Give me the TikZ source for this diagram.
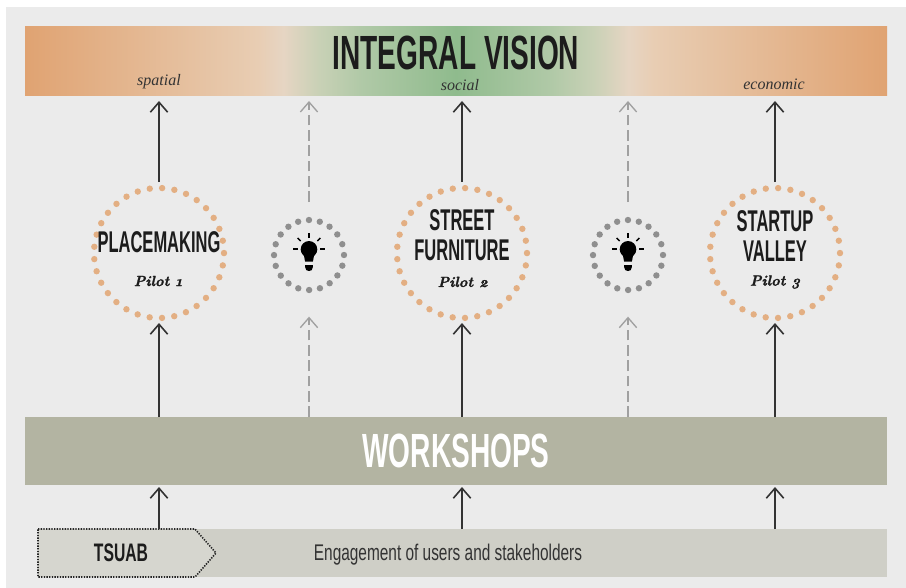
\documentclass[tikz,border=0pt]{standalone}
\usepackage{fontspec}
\usetikzlibrary{arrows.meta}
\setmainfont{Liberation Serif}
\newfontfamily\condbold[FakeStretch=0.585]{Liberation Sans Bold}
\newfontfamily\condhead[FakeStretch=0.55]{Liberation Sans Bold}
\newfontfamily\condtag[FakeStretch=0.62]{Liberation Sans Bold}
\newfontfamily\condreg[FakeStretch=0.68]{Liberation Sans}
\newfontfamily\pilotfont[Numbers=OldStyle,Extension=.otf,FakeBold=1.5]{lmroman10-bolditalic}
\definecolor{bggray}{HTML}{EBEBEB}
\definecolor{orangedot}{HTML}{E3AF83}
\definecolor{graydot}{HTML}{8F8F8F}
\definecolor{wsfill}{HTML}{B3B4A2}
\definecolor{engfill}{HTML}{CFCFC7}
\definecolor{inkdark}{HTML}{333333}
\definecolor{dashgray}{HTML}{A0A0A0}
\definecolor{titleink}{HTML}{1C1C1C}
\definecolor{vbA}{HTML}{E0A372}
\definecolor{vbB}{HTML}{E8CDB3}
\definecolor{vbC}{HTML}{E6D5C3}
\definecolor{vbD}{HTML}{C9D1B6}
\definecolor{vbE}{HTML}{B0C9A7}
\definecolor{vbF}{HTML}{8FBB8D}
\pgfdeclarehorizontalshading{visionbar}{100bp}{
 color(0bp)=(vbA);
 color(25bp)=(vbA);
 color(38.5bp)=(vbB);
 color(40bp)=(vbC);
 color(42bp)=(vbD);
 color(44.5bp)=(vbE);
 color(50bp)=(vbF);
 color(55.5bp)=(vbE);
 color(58bp)=(vbD);
 color(60bp)=(vbC);
 color(61.5bp)=(vbB);
 color(75bp)=(vbA);
 color(100bp)=(vbA)}
\tikzset{
 x=0.75pt,y=-0.75pt,
 barbox/.style={minimum height=51pt,inner sep=0pt,outer sep=0pt,text width=646.5pt,align=center},
 bigdots/.style={circle,minimum size=97.5pt,inner sep=0pt,outer sep=0pt,draw=orangedot,line width=4.8pt,line cap=round,dash pattern=on 0pt off 9.28pt},
 smalldots/.style={circle,minimum size=52.5pt,inner sep=0pt,outer sep=0pt,draw=graydot,line width=4.8pt,line cap=round,dash pattern=on 0pt off 8.25pt},
 solidarrow/.style={draw=inkdark,line width=1.2pt,-{Straight Barb[length=7.5pt,width=13pt,line width=1.2pt]}},
 dasharrow/.style={draw=dashgray,line width=1pt,dash pattern=on 8pt off 3.5pt,-{Straight Barb[length=7.5pt,width=13pt,line width=1pt]}},
 headtext/.style={font=\condhead\fontsize{22.5}{24}\selectfont,text=titleink,inner sep=0pt},
 axislabel/.style={font=\itshape\fontsize{12}{14}\selectfont,text=inkdark,inner sep=0pt},
 pilotlabel/.style={font=\pilotfont\fontsize{11}{12}\selectfont,text=titleink,inner sep=0pt},
}
\begin{document}
\begin{tikzpicture}
\useasboundingbox (0,0) rectangle (906,588);
\fill[white] (0,0) rectangle (906,588);
\fill[bggray] (5.5,7) rectangle (906,588);
% bars
\node[barbox,shade,shading=visionbar,minimum height=51.75pt] (vision) at (456,61.5) {};
\node[barbox,fill=wsfill] (workshops) at (456,451) {};
\fill[engfill] (38,529) rectangle (887,577);
\coordinate (engtop) at (456,529);
% dotted circles
\node[bigdots] (p1) at (159,253) {};
\node[bigdots] (p2) at (462,253) {};
\node[bigdots] (p3) at (775,253) {};
\node[smalldots] (s1) at (309,255) {};
\node[smalldots] (s2) at (628,255) {};
% tsuab pentagon
\draw[black!85,line width=1.2pt,dash pattern=on 1pt off 1pt,fill=engfill!85!white]
  (38,529) coordinate (tsuabtop) -- (195,529) -- (216,553) -- (195,577) -- (38,577) -- cycle;
\node[inner sep=0pt,font=\condtag\fontsize{19}{21}\selectfont,text=titleink] (tsuab) at (121,553) {TSUAB};
\node[inner sep=0pt,font=\condreg\fontsize{17}{19}\selectfont,text=inkdark] (eng) at (448,555) {Engagement of users and stakeholders};
% titles
\node[inner sep=0pt,font=\condbold\fontsize{36}{38}\selectfont,text=titleink] (visiontext) at (456,53) {INTEGRAL VISION};
\node[inner sep=0pt,font=\condbold\fontsize{36}{38}\selectfont,text=white] (wstext) at (456,451) {WORKSHOPS};
\node[axislabel] (a1) at (159,82) {spatial};
\node[axislabel] (a2) at (460,85) {social};
\node[axislabel] (a3) at (774,84) {economic};
% circle text
\node[headtext] (t1) at (159,242) {PLACEMAKING};
\node[pilotlabel] (l1) at (158,281) {Pilot 1};
\node[headtext] (t2a) at (462,220) {STREET};
\node[headtext] (t2b) at (462,250) {FURNITURE};
\node[pilotlabel] (l2) at (463,282) {Pilot 2};
\node[headtext] (t3a) at (775,221) {STARTUP};
\node[headtext] (t3b) at (775,251) {VALLEY};
\node[pilotlabel] (l3) at (775,282) {Pilot 3};
% bulbs
\foreach \n in {s1,s2}{
  \begin{scope}[shift={(\n.center)}]
    \fill[black] (0,-5.7) circle[radius=8.3];
    \fill[black] (-5.5,-2) -- (5.5,-2) -- (3.9,6.7) -- (-3.9,6.7) -- cycle;
    \fill[black] (-3.9,10) -- (3.9,10) -- (3.9,12) .. controls (3.9,15) and (2,16) .. (0,16) .. controls (-2,16) and (-3.9,15) .. (-3.9,12) -- cycle;
    \draw[black,line width=1.1pt] (0,-17) -- (0,-22);
    \draw[black,line width=1.1pt] (-8.3,-14) -- (-11.3,-17);
    \draw[black,line width=1.1pt] (8.3,-14) -- (11.3,-17);
    \draw[black,line width=1.1pt] (-11,-6) -- (-16,-6);
    \draw[black,line width=1.1pt] (11,-6) -- (16,-6);
  \end{scope}
}
% upper arrows
\draw[solidarrow,shorten >=3.75pt,shorten <=4.5pt] (p1.north) -- (p1.north |- vision.south);
\draw[solidarrow,shorten >=3.75pt,shorten <=4.5pt] (p2.north) -- (p2.north |- vision.south);
\draw[solidarrow,shorten >=3.75pt,shorten <=4.5pt] (p3.north) -- (p3.north |- vision.south);
\draw[dasharrow,shorten >=3.75pt,shorten <=13.5pt] (s1.north) -- (s1.north |- vision.south);
\draw[dasharrow,shorten >=3.75pt,shorten <=13.5pt] (s2.north) -- (s2.north |- vision.south);
% lower arrows
\draw[solidarrow,shorten >=3.75pt] (p1.south |- workshops.north) -- (p1.south);
\draw[solidarrow,shorten >=3.75pt] (p2.south |- workshops.north) -- (p2.south);
\draw[solidarrow,shorten >=3.75pt] (p3.south |- workshops.north) -- (p3.south);
\draw[dasharrow,shorten >=20pt] (s1.south |- workshops.north) -- (s1.south);
\draw[dasharrow,shorten >=20pt] (s2.south |- workshops.north) -- (s2.south);
% bottom arrows
\draw[solidarrow,shorten >=1.5pt] (p1.south |- tsuabtop) -- (p1.south |- workshops.south);
\draw[solidarrow,shorten >=1.5pt] (p2.south |- engtop) -- (p2.south |- workshops.south);
\draw[solidarrow,shorten >=1.5pt] (p3.south |- engtop) -- (p3.south |- workshops.south);
\end{tikzpicture}
\end{document}
